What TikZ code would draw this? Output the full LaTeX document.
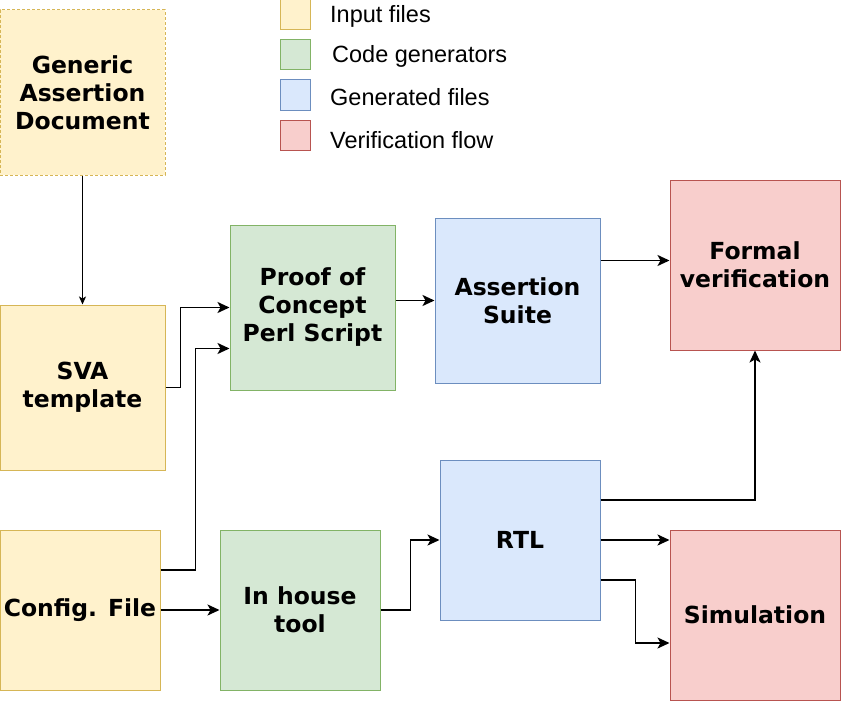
\documentclass[tikz,border=0pt]{standalone}
\usepackage{fontspec}
\setmainfont{DejaVu Sans}
\newfontfamily\legendfont{Liberation Sans}
\usetikzlibrary{arrows.meta}
\definecolor{yfill}{HTML}{FFF2CC}\definecolor{ydraw}{HTML}{D6B656}
\definecolor{gfill}{HTML}{D5E8D4}\definecolor{gdraw}{HTML}{82B366}
\definecolor{bfill}{HTML}{DAE8FC}\definecolor{bdraw}{HTML}{6C8EBF}
\definecolor{rfill}{HTML}{F8CECC}\definecolor{rdraw}{HTML}{B85450}
\tikzset{
  box/.style={draw, line width=1pt, inner sep=0pt, align=center,
    font=\fontsize{23.5}{28}\selectfont\bfseries},
  inbox/.style={box, fill=yfill, draw=ydraw},
  genbox/.style={box, fill=gfill, draw=gdraw},
  outbox/.style={box, fill=bfill, draw=bdraw},
  verbox/.style={box, fill=rfill, draw=rdraw},
  legbox/.style={draw, line width=1pt, minimum width=30pt, minimum height=30pt, inner sep=0pt},
  legtext/.style={anchor=west, inner sep=0pt, font=\legendfont\fontsize{23.5}{28}\selectfont},
  arr/.style={line width=1.8pt, -{Stealth[length=12pt,width=11pt,inset=3pt]}},
  thinarr/.style={line width=1pt, -{Stealth[length=8pt,width=7pt,inset=2pt]}}
}
\begin{document}
\begin{tikzpicture}[x=1pt,y=-1pt]
\useasboundingbox (0,0) rectangle (841,701);
% legend
\node[legbox, fill=yfill, draw=ydraw] (l1) at (295,15) {};
\node[legbox, fill=gfill, draw=gdraw] (l2) at (295,55) {};
\node[legbox, fill=bfill, draw=bdraw] (l3) at (295,95) {};
\node[legbox, fill=rfill, draw=rdraw] (l4) at (295,135) {};
\node[legtext] (t1) at (330,16) {Input files};
\node[legtext] (t2) at (332,56) {Code generators};
\node[legtext] (t3) at (330,97) {Generated files};
\node[legtext] (t4) at (330,140) {Verification flow};
% boxes
\node[inbox, dash pattern=on 3pt off 2pt, minimum width=165pt, minimum height=165pt] (generic) at (82.5,92.5) {\raisebox{-2pt}{\parbox{160pt}{\centering Generic\\Assertion\\Document}}};
\node[inbox, minimum width=165pt, minimum height=165pt] (sva) at (82.5,387.5) {SVA\\template};
\node[inbox, minimum width=160pt, minimum height=160pt] (config) at (80,610) {Config. File};
\node[genbox, minimum width=165pt, minimum height=165pt] (proof) at (312.5,307.5) {Proof of\\Concept\\Perl Script};
\node[genbox, minimum width=160pt, minimum height=160pt] (inhouse) at (300,610) {In house\\tool};
\node[outbox, minimum width=165pt, minimum height=165pt] (assert) at (517.5,300.5) {Assertion\\Suite};
\node[outbox, minimum width=160pt, minimum height=160pt] (rtl) at (520,540) {RTL};
\node[verbox, minimum width=170pt, minimum height=170pt] (formal) at (755,265) {Formal\\verification};
\node[verbox, minimum width=170pt, minimum height=170pt] (sim) at (755,615) {Simulation};
% connectors
\draw[thinarr] (generic.south) -- (sva.north);
\draw[arr] (sva.east) -- ++(15,0) |- (proof.west);
\draw[arr] ([yshift=40pt]config.east) -- ++(35,0) |- ([yshift=-41pt]proof.west);
\draw[arr] (config.east) -- (inhouse.west);
\draw[arr] (proof.east |- assert.west) -- (assert.west);
\draw[arr] (inhouse.east) -- ++(30,0) |- (rtl.west);
\draw[arr] ([yshift=40pt]assert.east) coordinate (a1) -- (a1 -| formal.west);
\draw[arr] ([yshift=40pt]rtl.east) -| (formal.south);
\draw[arr] (rtl.east) -- (rtl.east -| sim.west);
\draw[arr] ([yshift=-40pt]rtl.east) -- ++(35,0) |- ([yshift=-28pt]sim.west);
\end{tikzpicture}
\end{document}
